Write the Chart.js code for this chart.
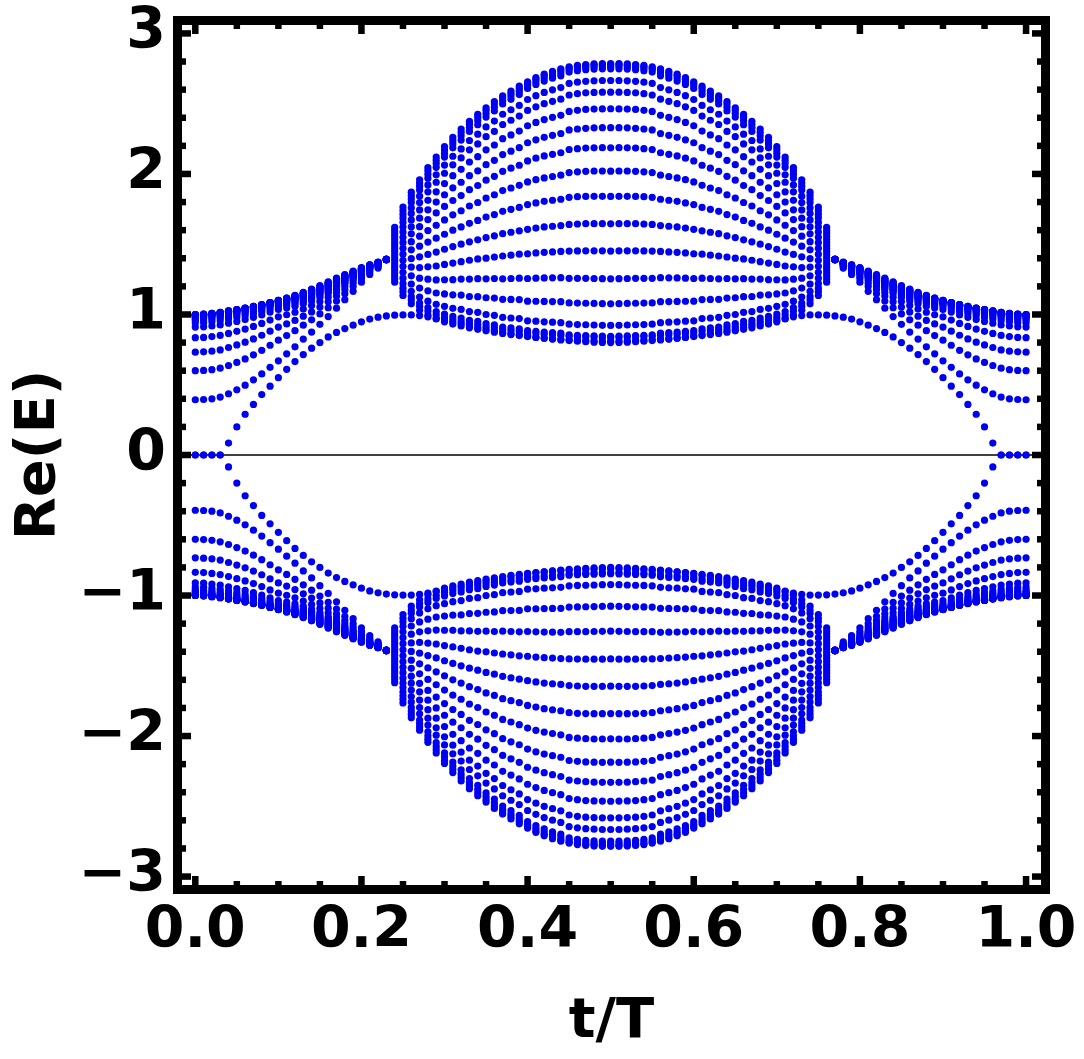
<!DOCTYPE html>
<html lang="en">
<head>
    <meta charset="UTF-8">
    <title>Re(E) vs t/T</title>
    <script src="https://cdn.jsdelivr.net/npm/chart.js"></script>
    <style>
        html, body {
            margin: 0;
            padding: 0;
            background: #ffffff;
        }

        #wrap {
            width: 1084px;
            height: 1059px;
        }
    </style>
</head>
<body>
    <div id="wrap">
        <canvas id="spectrum" width="1084" height="1059" style="width:1084px;height:1059px"></canvas>
    </div>

    <script>
        // t/T sample points (one column of dots every 0.01)
        const tValues = [
            0.00, 0.01, 0.02, 0.03, 0.04, 0.05, 0.06, 0.07, 0.08, 0.09,
            0.10, 0.11, 0.12, 0.13, 0.14, 0.15, 0.16, 0.17, 0.18, 0.19,
            0.20, 0.21, 0.22, 0.23, 0.24, 0.25, 0.26, 0.27, 0.28, 0.29,
            0.30, 0.31, 0.32, 0.33, 0.34, 0.35, 0.36, 0.37, 0.38, 0.39,
            0.40, 0.41, 0.42, 0.43, 0.44, 0.45, 0.46, 0.47, 0.48, 0.49,
            0.50, 0.51, 0.52, 0.53, 0.54, 0.55, 0.56, 0.57, 0.58, 0.59,
            0.60, 0.61, 0.62, 0.63, 0.64, 0.65, 0.66, 0.67, 0.68, 0.69,
            0.70, 0.71, 0.72, 0.73, 0.74, 0.75, 0.76, 0.77, 0.78, 0.79,
            0.80, 0.81, 0.82, 0.83, 0.84, 0.85, 0.86, 0.87, 0.88, 0.89,
            0.90, 0.91, 0.92, 0.93, 0.94, 0.95, 0.96, 0.97, 0.98, 0.99,
            1.00
        ];

        // Re(E) for t/T = 0.00 ... 0.50, upper branch only.
        // The spectrum is mirror symmetric in t/T -> 1 - t/T and in E -> -E,
        // so the other three quarters reuse these readings.
        const edgeMode = [0, 0, 0, 0, .085, .20, .29, .36, .43, .49, .55, .61, .665, .715, .76, .80, .84, .872, .90, .924, .948, .967, .981, .99,
            .995, .997, .997, .992, .983, .972, .96, .947, .934, .921, .909, .897, .886, .875, .865, .855, .846, .838, .831, .825, .819, .814, .81, .806, .803, .801, .80];

        const band01 = [1.0, 1.002, 1.008, 1.015, 1.025, 1.035, 1.045, 1.057, 1.07, 1.085, 1.10, 1.117, 1.136, 1.157, 1.18, 1.205, 1.232, 1.258, 1.283, 1.308, 1.333, 1.354, 1.372, 1.392,
            1.62, 1.764, 1.87, 1.958, 2.045, 2.12, 2.195, 2.26, 2.32, 2.375, 2.425, 2.47, 2.515, 2.555, 2.59, 2.625, 2.655, 2.685, 2.71, 2.73, 2.748, 2.762, 2.772, 2.779, 2.783, 2.785, 2.785];
        const band02 = [1.0, 1.002, 1.008, 1.015, 1.025, 1.035, 1.045, 1.057, 1.07, 1.085, 1.10, 1.116, 1.134, 1.154, 1.177, 1.201, 1.228, 1.254, 1.28, 1.305, 1.331, 1.353, 1.371, 1.392,
            1.598, 1.739, 1.846, 1.935, 2.022, 2.098, 2.173, 2.237, 2.296, 2.354, 2.404, 2.453, 2.497, 2.54, 2.574, 2.609, 2.644, 2.674, 2.699, 2.719, 2.737, 2.755, 2.765, 2.772, 2.776, 2.778, 2.778];
        const band03 = [.999, 1.001, 1.007, 1.014, 1.024, 1.034, 1.044, 1.056, 1.069, 1.084, 1.099, 1.114, 1.131, 1.151, 1.173, 1.197, 1.223, 1.249, 1.276, 1.302, 1.329, 1.351, 1.37, 1.392,
            1.577, 1.713, 1.822, 1.912, 1.998, 2.074, 2.148, 2.214, 2.271, 2.331, 2.379, 2.43, 2.474, 2.521, 2.555, 2.589, 2.628, 2.657, 2.682, 2.701, 2.719, 2.743, 2.752, 2.759, 2.763, 2.765, 2.765];
        const band04 = [.998, 1.0, 1.006, 1.013, 1.023, 1.033, 1.043, 1.055, 1.069, 1.084, 1.099, 1.113, 1.129, 1.148, 1.169, 1.193, 1.219, 1.245, 1.272, 1.299, 1.327, 1.35, 1.369, 1.392,
            1.555, 1.687, 1.796, 1.886, 1.97, 2.047, 2.12, 2.186, 2.241, 2.303, 2.35, 2.405, 2.448, 2.498, 2.531, 2.565, 2.608, 2.637, 2.661, 2.681, 2.698, 2.725, 2.735, 2.742, 2.746, 2.748, 2.748];
        const band05 = [.997, .999, 1.005, 1.012, 1.022, 1.032, 1.042, 1.054, 1.068, 1.083, 1.098, 1.111, 1.126, 1.144, 1.165, 1.189, 1.215, 1.241, 1.269, 1.296, 1.325, 1.348, 1.369, 1.392,
            1.533, 1.655, 1.758, 1.842, 1.922, 1.994, 2.063, 2.126, 2.178, 2.238, 2.283, 2.335, 2.376, 2.425, 2.457, 2.488, 2.53, 2.557, 2.58, 2.599, 2.615, 2.644, 2.653, 2.659, 2.663, 2.665, 2.665];
        const band06 = [.996, .998, 1.004, 1.011, 1.021, 1.031, 1.041, 1.053, 1.067, 1.082, 1.097, 1.109, 1.124, 1.141, 1.161, 1.184, 1.21, 1.236, 1.265, 1.293, 1.322, 1.347, 1.368, 1.392,
            1.512, 1.622, 1.719, 1.797, 1.873, 1.941, 2.005, 2.065, 2.114, 2.172, 2.214, 2.265, 2.303, 2.352, 2.382, 2.412, 2.452, 2.478, 2.50, 2.517, 2.532, 2.562, 2.571, 2.577, 2.58, 2.582, 2.582];
        const band07 = [.994, .996, 1.002, 1.009, 1.019, 1.029, 1.04, 1.052, 1.065, 1.08, 1.096, 1.107, 1.121, 1.137, 1.157, 1.18, 1.206, 1.232, 1.261, 1.29, 1.32, 1.346, 1.367, 1.392,
            1.49, 1.587, 1.673, 1.744, 1.812, 1.873, 1.932, 1.988, 2.033, 2.085, 2.123, 2.172, 2.206, 2.251, 2.278, 2.305, 2.343, 2.367, 2.387, 2.403, 2.417, 2.445, 2.453, 2.459, 2.462, 2.463, 2.464];
        const band08 = [.992, .994, 1.0, 1.007, 1.017, 1.028, 1.038, 1.05, 1.064, 1.079, 1.094, 1.104, 1.117, 1.134, 1.153, 1.176, 1.201, 1.227, 1.257, 1.287, 1.318, 1.344, 1.366, 1.392,
            1.468, 1.549, 1.624, 1.685, 1.745, 1.80, 1.852, 1.901, 1.941, 1.988, 2.022, 2.066, 2.097, 2.138, 2.162, 2.187, 2.222, 2.243, 2.261, 2.275, 2.288, 2.313, 2.32, 2.325, 2.328, 2.329, 2.329];
        const band09 = [.989, .991, .997, 1.004, 1.014, 1.025, 1.035, 1.048, 1.061, 1.077, 1.092, 1.102, 1.114, 1.13, 1.149, 1.171, 1.196, 1.222, 1.253, 1.284, 1.316, 1.342, 1.365, 1.392,
            1.447, 1.511, 1.574, 1.625, 1.675, 1.723, 1.769, 1.811, 1.846, 1.888, 1.918, 1.956, 1.983, 2.019, 2.041, 2.062, 2.093, 2.112, 2.128, 2.14, 2.151, 2.174, 2.18, 2.184, 2.186, 2.187, 2.186];
        const band10 = [.985, .987, .993, 1.0, 1.01, 1.021, 1.031, 1.044, 1.058, 1.073, 1.089, 1.098, 1.109, 1.125, 1.143, 1.165, 1.191, 1.217, 1.249, 1.281, 1.313, 1.341, 1.364, 1.391,
            1.425, 1.471, 1.518, 1.557, 1.597, 1.635, 1.673, 1.709, 1.738, 1.772, 1.797, 1.829, 1.852, 1.882, 1.90, 1.919, 1.943, 1.959, 1.972, 1.982, 1.991, 2.01, 2.015, 2.019, 2.021, 2.021, 2.02];
        const band11 = [.979, .981, .987, .994, 1.004, 1.015, 1.026, 1.039, 1.053, 1.069, 1.085, 1.093, 1.104, 1.119, 1.138, 1.16, 1.185, 1.212, 1.244, 1.277, 1.311, 1.339, 1.363, 1.391,
            1.403, 1.429, 1.46, 1.486, 1.515, 1.543, 1.571, 1.60, 1.623, 1.649, 1.669, 1.693, 1.711, 1.734, 1.748, 1.762, 1.782, 1.794, 1.805, 1.813, 1.82, 1.834, 1.838, 1.84, 1.841, 1.841, 1.84];
        const band12 = [.970, .972, .978, .985, .996, 1.007, 1.018, 1.031, 1.046, 1.062, 1.079, 1.086, 1.098, 1.113, 1.131, 1.153, 1.178, 1.206, 1.239, 1.273, 1.308, 1.337, 1.362, 1.391,
            1.382, 1.386, 1.398, 1.41, 1.427, 1.444, 1.464, 1.483, 1.50, 1.517, 1.531, 1.547, 1.56, 1.575, 1.585, 1.595, 1.606, 1.615, 1.623, 1.628, 1.633, 1.641, 1.644, 1.646, 1.646, 1.646, 1.645];
        const band13 = [.958, .96, .966, .973, .984, .996, 1.007, 1.021, 1.036, 1.053, 1.07, 1.078, 1.089, 1.104, 1.122, 1.145, 1.171, 1.199, 1.234, 1.268, 1.304, 1.335, 1.36, 1.391,
            1.36, 1.343, 1.337, 1.334, 1.339, 1.345, 1.356, 1.366, 1.376, 1.386, 1.395, 1.401, 1.409, 1.416, 1.422, 1.429, 1.432, 1.438, 1.442, 1.445, 1.449, 1.451, 1.452, 1.453, 1.453, 1.453, 1.451];
        const band14 = [.94, .942, .948, .955, .967, .978, .991, 1.005, 1.021, 1.039, 1.057, 1.065, 1.077, 1.093, 1.112, 1.135, 1.161, 1.19, 1.227, 1.263, 1.30, 1.332, 1.359, 1.391,
            1.338, 1.30, 1.275, 1.258, 1.251, 1.246, 1.247, 1.248, 1.252, 1.252, 1.255, 1.254, 1.256, 1.254, 1.256, 1.258, 1.256, 1.258, 1.26, 1.261, 1.262, 1.257, 1.257, 1.257, 1.256, 1.255, 1.254];
        const band15 = [.91, .912, .918, .926, .938, .95, .964, .98, .997, 1.017, 1.036, 1.046, 1.059, 1.076, 1.096, 1.121, 1.149, 1.18, 1.217, 1.255, 1.295, 1.329, 1.357, 1.391,
            1.317, 1.258, 1.217, 1.188, 1.168, 1.153, 1.146, 1.14, 1.138, 1.128, 1.127, 1.119, 1.117, 1.108, 1.107, 1.106, 1.095, 1.094, 1.093, 1.092, 1.091, 1.082, 1.081, 1.08, 1.079, 1.077, 1.076];
        const band16 = [.835, .837, .843, .851, .865, .88, .896, .915, .936, .96, .983, .998, 1.016, 1.039, 1.063, 1.092, 1.123, 1.158, 1.20, 1.241, 1.285, 1.322, 1.352, 1.391,
            1.295, 1.219, 1.165, 1.124, 1.095, 1.072, 1.058, 1.044, 1.036, 1.021, 1.015, 1.0, .994, .98, .975, .971, .955, .952, .948, .945, .942, .931, .928, .927, .925, .923, .922];
        const band17 = [.732, .734, .739, .748, .765, .783, .803, .826, .852, .881, .91, .933, .958, .988, 1.018, 1.053, 1.09, 1.131, 1.177, 1.222, 1.271, 1.313, 1.347, 1.39,
            1.273, 1.187, 1.127, 1.081, 1.049, 1.021, 1.003, .986, .975, .959, .951, .935, .926, .911, .904, .898, .885, .88, .875, .871, .867, .855, .852, .85, .848, .847, .845];
        const band18 = [.60, .602, .607, .618, .637, .659, .684, .713, .745, .781, .817, .85, .885, .924, .962, 1.004, 1.048, 1.096, 1.148, 1.199, 1.255, 1.302, 1.34, 1.389,
            1.252, 1.162, 1.103, 1.058, 1.024, .998, .979, .964, .952, .937, .928, .914, .905, .894, .886, .88, .87, .865, .86, .856, .852, .845, .842, .841, .839, .837, .836];
        const band19 = [.393, .395, .40, .412, .436, .464, .497, .535, .577, .624, .67, .72, .77, .825, .875, .93, .985, 1.045, 1.105, 1.165, 1.23, 1.285, 1.33, 1.388,
            1.23, 1.135, 1.076, 1.03, .995, .968, .948, .932, .918, .905, .894, .884, .874, .865, .857, .85, .843, .837, .832, .827, .823, .82, .817, .815, .813, .811, .81];

        // axes
        const xTickValues = [0, 0.2, 0.4, 0.6, 0.8, 1.0];
        const yTickValues = [-3, -2, -1, 0, 1, 2, 3];
        const xMinorTicks = [0.05, 0.1, 0.15, 0.25, 0.3, 0.35, 0.45, 0.5, 0.55, 0.65, 0.7, 0.75, 0.85, 0.9, 0.95];
        const yMinorTicks = [-2.8, -2.6, -2.4, -2.2, -1.8, -1.6, -1.4, -1.2, -0.8, -0.6, -0.4, -0.2,
            0.2, 0.4, 0.6, 0.8, 1.2, 1.4, 1.6, 1.8, 2.2, 2.4, 2.6, 2.8];

        const allBands = [edgeMode, band01, band02, band03, band04, band05, band06, band07, band08, band09, band10,
            band11, band12, band13, band14, band15, band16, band17, band18, band19];

        // 组装散点
        const points = [];
        allBands.forEach(band => {
            tValues.forEach((t, i) => {
                const e = band[i <= 50 ? i : 100 - i];
                points.push({ x: t, y: e });
                points.push({ x: t, y: -e });
            });
        });

        const boldFont = size => ({ family: 'DejaVu Sans', weight: 'bold', size: size });
        const minus = v => (v < 0 ? '\u2212' + Math.abs(v) : String(v));

        // frame, inward ticks and the E = 0 axis
        const framePlugin = {
            id: 'frame',
            beforeDatasetsDraw(chart) {
                const { ctx, chartArea: a, scales: { y } } = chart;
                const y0 = y.getPixelForValue(0);
                ctx.save();
                ctx.strokeStyle = '#000';
                ctx.lineWidth = 1.3;
                ctx.beginPath();
                ctx.moveTo(a.left, y0);
                ctx.lineTo(a.right, y0);
                ctx.stroke();
                ctx.restore();
            },
            afterDraw(chart) {
                const { ctx, chartArea: a, scales: { x, y } } = chart;
                const w = 6.5;
                ctx.save();
                ctx.fillStyle = '#000';
                const xMark = (v, len) => {
                    const px = x.getPixelForValue(v);
                    ctx.fillRect(px - w / 2, a.bottom - len, w, len);
                    ctx.fillRect(px - w / 2, a.top, w, len);
                };
                const yMark = (v, len) => {
                    const py = y.getPixelForValue(v);
                    ctx.fillRect(a.left, py - w / 2, len, w);
                    ctx.fillRect(a.right - len, py - w / 2, len, w);
                };
                xTickValues.forEach(v => xMark(v, 9));
                xMinorTicks.forEach(v => xMark(v, 4));
                yTickValues.forEach(v => yMark(v, 9));
                yMinorTicks.forEach(v => yMark(v, 4));

                ctx.strokeStyle = '#000';
                ctx.lineWidth = 9;
                ctx.strokeRect(a.left - 4.5, a.top - 4.5, a.right - a.left + 9, a.bottom - a.top + 9);
                ctx.restore();
            }
        };

        new Chart(document.getElementById('spectrum'), {
            type: 'scatter',
            data: {
                datasets: [{
                    data: points,
                    pointRadius: 3.6,
                    pointBorderWidth: 0,
                    pointBackgroundColor: '#0000f0',
                    pointBorderColor: '#0000f0'
                }]
            },
            options: {
                responsive: false,
                animation: false,
                devicePixelRatio: 1,
                layout: { padding: { top: 25, right: 43, bottom: 0, left: 0 } },
                plugins: {
                    legend: { display: false },
                    tooltip: { enabled: false }
                },
                scales: {
                    x: {
                        type: 'linear',
                        min: -0.016,
                        max: 1.018,
                        afterBuildTicks: s => { s.ticks = xTickValues.map(v => ({ value: v })); },
                        afterFit: s => {
                            s.height = 174;
                            s.paddingLeft = 0;
                            s.paddingRight = 0;
                        },
                        grid: { display: false, drawTicks: false },
                        border: { display: false },
                        ticks: {
                            color: '#000',
                            font: boldFont(57),
                            padding: 13,
                            maxRotation: 0,
                            autoSkip: false,
                            callback: v => v.toFixed(1)
                        },
                        title: {
                            display: true,
                            text: 't/T',
                            color: '#000',
                            font: boldFont(56),
                            padding: { top: 0, bottom: 3 }
                        }
                    },
                    y: {
                        type: 'linear',
                        min: -3.06,
                        max: 3.06,
                        afterBuildTicks: s => { s.ticks = yTickValues.map(v => ({ value: v })); },
                        afterFit: s => {
                            s.width = 182;
                            s.paddingTop = 0;
                            s.paddingBottom = 0;
                        },
                        grid: { display: false, drawTicks: false },
                        border: { display: false },
                        ticks: {
                            color: '#000',
                            font: boldFont(57),
                            padding: 16,
                            autoSkip: false,
                            callback: v => minus(v)
                        },
                        title: {
                            display: true,
                            text: 'Re(E)',
                            color: '#000',
                            font: boldFont(56),
                            padding: { top: 6, bottom: 0 }
                        }
                    }
                }
            },
            plugins: [framePlugin]
        });
    </script>
</body>
</html>
